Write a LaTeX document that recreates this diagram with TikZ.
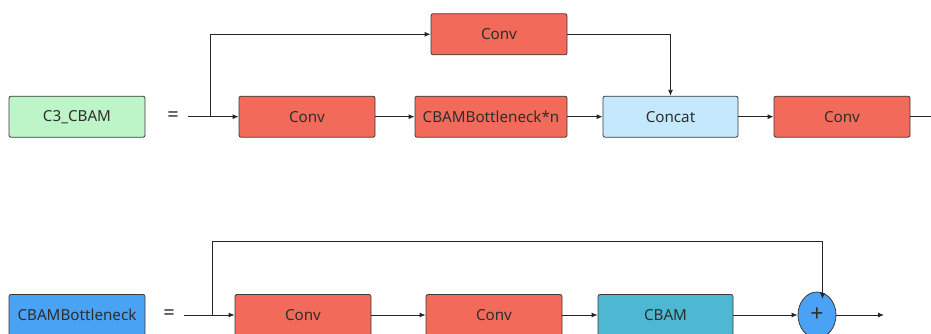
\documentclass[tikz,border=0pt]{standalone}
\usepackage{fontspec}
\setmainfont{Noto Sans}
\usetikzlibrary{arrows.meta,shapes.geometric}
\definecolor{convred}{HTML}{F26A5A}
\definecolor{mintgreen}{HTML}{BDF5C9}
\definecolor{paleblue}{HTML}{C4E8FC}
\definecolor{skyblue}{HTML}{4AA2F5}
\definecolor{tealblue}{HTML}{4EB8D3}
\definecolor{edgegray}{HTML}{3A3A3A}
\definecolor{txt}{HTML}{2E2E2E}
\tikzset{
  block/.style={draw=edgegray, line width=0.8pt, rounded corners=2pt,
    minimum width=136pt, minimum height=41pt, inner sep=0pt,
    font=\fontsize{15.2}{17}\selectfont, text=txt},
  link/.style={draw=black!85, line width=0.9pt},
  arr/.style={link, -{Latex[length=6pt,width=5pt]}},
  eq/.style={font=\fontsize{20}{22}\selectfont, text=txt}
}
\begin{document}
\begin{tikzpicture}[x=1pt,y=-1pt]
\useasboundingbox (0,0) rectangle (931,333);

% --- C3_CBAM module ---
\node[block, fill=mintgreen] (c3) at (77,116.7) {C3\_CBAM};
\node[eq] (eq1) at (173,116.7) {=};
\coordinate (in1) at (188,116.7);
\coordinate (sp1) at (210,116.7);
\node[block, fill=convred] (cv1) at (307,116.7) {Conv};
\node[block, fill=convred] (cv0) at (499,34.3) {Conv};
\node[block, fill=convred, minimum width=152pt] (bn) at (491,116.7) {CBAMBottleneck*n};
\node[block, fill=paleblue, minimum width=135pt] (cat) at (670.5,116.7) {Concat};
\node[block, fill=convred] (cv2) at (842,116.7) {Conv};
\coordinate (out1) at (931,116.7);

\draw[arr] (in1) -- (cv1.west);
\draw[arr] (sp1) |- (cv0.west);
\draw[arr] (cv0.east) -| (cat.north);
\draw[arr] (cv1.east) -- (bn.west);
\draw[arr] (bn.east) -- (cat.west);
\draw[arr] (cat.east) -- (cv2.west);
\draw[link] (cv2.east) -- (out1);

% --- CBAMBottleneck module ---
\node[block, fill=skyblue] (cb) at (77,315) {CBAMBottleneck};
\node[eq] (eq2) at (169,315) {=};
\coordinate (in2) at (184,315);
\coordinate (sp2) at (212,315);
\coordinate (up2) at (212,241.5);
\node[block, fill=convred] (bc1) at (303,315) {Conv};
\node[block, fill=convred] (bc2) at (494,315) {Conv};
\node[block, fill=tealblue, minimum width=135pt] (att) at (665.5,315) {CBAM};
\node[draw=edgegray, line width=0.8pt, fill=skyblue, ellipse, minimum width=38pt,
      minimum height=46pt, inner sep=0pt, font=\fontsize{23}{25}\selectfont, text=txt]
      (add) at (817,315) {\raisebox{-1.5pt}{+}};
\coordinate (turn) at (822.5,241.5);
\coordinate (tip) at (822.5,299);
\coordinate (out2) at (884,315);

\draw[arr] (in2) -- (bc1.west);
\draw[link] (sp2) -- (up2) -- (turn);
\draw[arr] (turn) -- (tip);
\draw[arr] (bc1.east) -- (bc2.west);
\draw[arr] (bc2.east) -- (att.west);
\draw[arr] (att.east) -- (add.west);
\draw[arr] (add.east) -- (out2);
\end{tikzpicture}
\end{document}
